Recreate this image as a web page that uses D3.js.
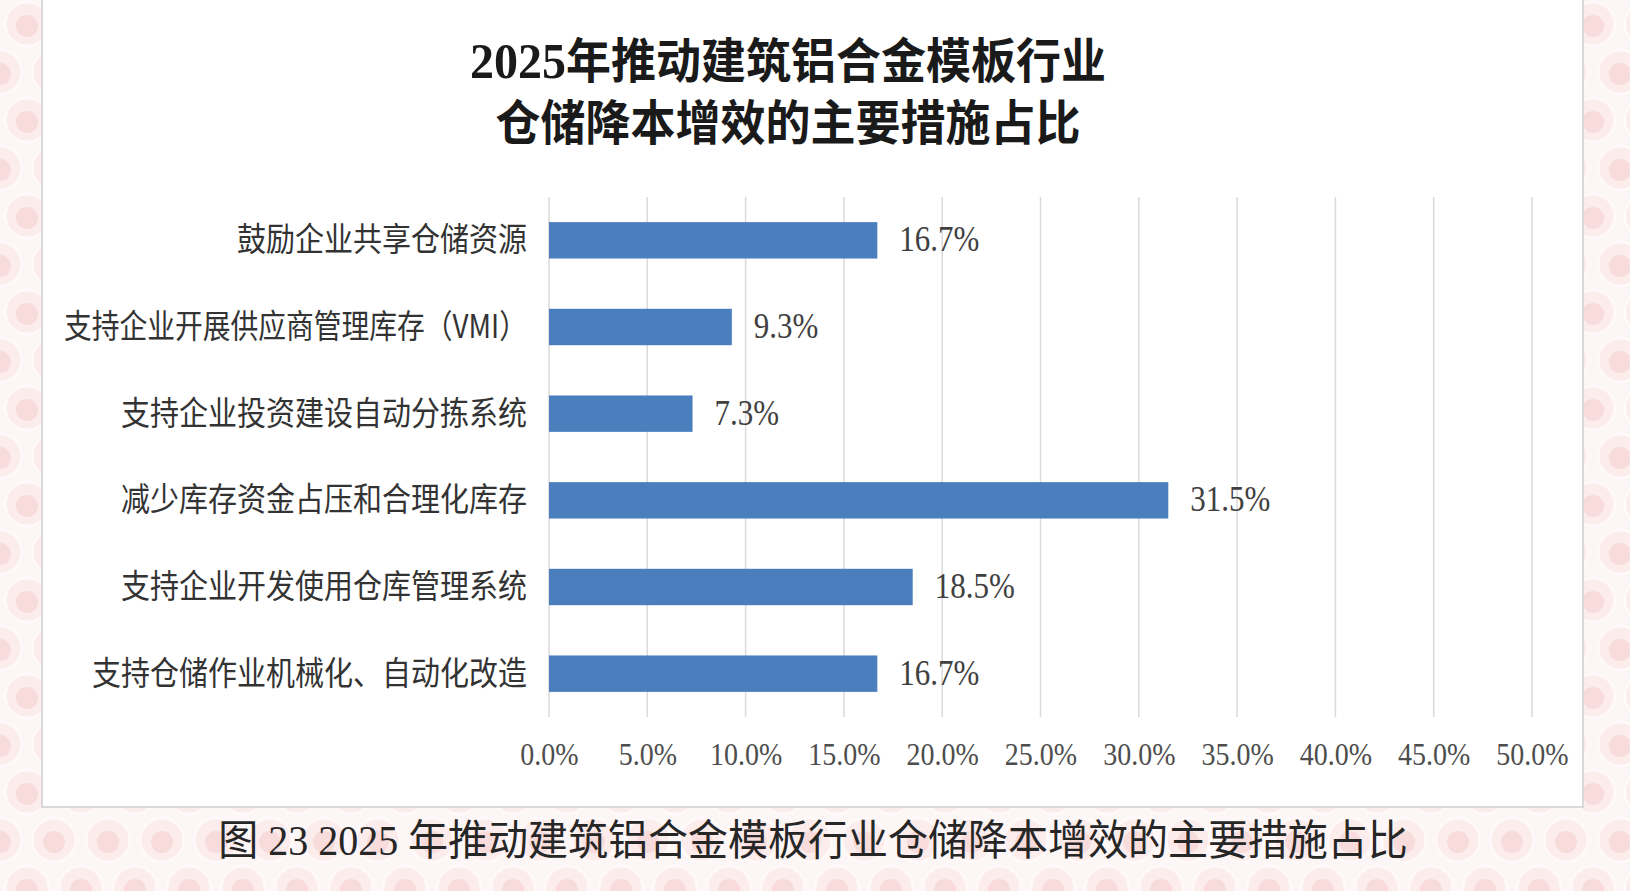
<!DOCTYPE html>
<html>
<head>
<meta charset="utf-8">
<script src="https://cdn.jsdelivr.net/npm/d3@7"></script>
<style>
  html, body { margin: 0; padding: 0; background: #fdf6f6; }
  svg { display: block; }
</style>
</head>
<body>
<div id="chart"></div>
<script>
// chart data
const categories = [
    '鼓励企业共享仓储资源',
    '支持企业开展供应商管理库存（VMI）',
    '支持企业投资建设自动分拣系统',
    '减少库存资金占压和合理化库存',
    '支持企业开发使用仓库管理系统',
    '支持仓储作业机械化、自动化改造'
];
const shares = [16.7, 9.3, 7.3, 31.5, 18.5, 16.7];
const xTicks = [0, 5, 10, 15, 20, 25, 30, 35, 40, 45, 50];
const titleLines = ['2025年推动建筑铝合金模板行业', '仓储降本增效的主要措施占比'];
const caption = '图 23 2025 年推动建筑铝合金模板行业仓储降本增效的主要措施占比';

const width = 1630;
const height = 891;
const cjk = '"Noto Sans CJK SC", "Noto Sans", sans-serif';
const serif = '"Liberation Serif", "DejaVu Serif", serif';
const stretch = 1.13; // source image is a bit taller than wide

const svg = d3.select('#chart').append('svg')
    .attr('width', width)
    .attr('height', height);

// pink circle wallpaper behind the card
const defs = svg.append('defs');
const pat = defs.append('pattern')
    .attr('id', 'bg')
    .attr('patternUnits', 'userSpaceOnUse')
    .attr('width', 54)
    .attr('height', 96);
pat.append('rect').attr('width', 54).attr('height', 96).attr('fill', '#fdf6f6');
[[27, 24], [0, 72], [54, 72]].forEach(([cx, cy]) => {
    pat.append('circle').attr('cx', cx).attr('cy', cy).attr('r', 22)
        .attr('fill', '#fcecec').attr('stroke', '#fff9f9').attr('stroke-width', 3);
    pat.append('circle').attr('cx', cx).attr('cy', cy + 2).attr('r', 11)
        .attr('fill', '#f8dcdc');
});
svg.append('rect').attr('width', width).attr('height', height).attr('fill', 'url(#bg)');

// white card
svg.append('rect')
    .attr('x', 42).attr('y', -2)
    .attr('width', 1541).attr('height', 809)
    .attr('fill', '#ffffff')
    .attr('stroke', '#d9d9d9')
    .attr('stroke-width', 2);

// title
const titleG = svg.append('g');
const titleBase = [78, 140];
titleLines.forEach((line, i) => {
    const t = titleG.append('text')
        .attr('transform', `translate(788,${titleBase[i]}) scale(1,1.05)`)
        .attr('text-anchor', 'middle')
        .attr('fill', '#1a1a1a')
        .attr('font-weight', 'bold')
        .style('font-size', '45px');
    const m = line.match(/^(\d+)(.*)$/);
    if (m) {
        t.append('tspan').attr('font-family', serif).style('font-size', '48px').text(m[1]);
        t.append('tspan').attr('font-family', cjk).text(m[2]);
    } else {
        t.append('tspan').attr('font-family', cjk).text(line);
    }
});

// scales
const x = d3.scaleLinear()
    .domain([0, 50])
    .range([549, 1532]);

const y = d3.scaleBand()
    .domain(categories)
    .range([197, 717])
    .paddingInner(0.58)
    .paddingOuter(0.29);

// gridlines
svg.append('g')
    .selectAll('line')
    .data(xTicks)
    .enter()
    .append('line')
    .attr('x1', d => x(d))
    .attr('x2', d => x(d))
    .attr('y1', 197)
    .attr('y2', 717)
    .attr('stroke', '#dadada')
    .attr('stroke-width', 1.5);

// x axis labels
const xAxis = svg.append('g')
    .attr('transform', 'translate(0,717)')
    .call(d3.axisBottom(x).tickValues(xTicks).tickSize(0).tickFormat(d => d3.format('.1f')(d) + '%'));
xAxis.select('.domain').remove();
xAxis.selectAll('text')
    .attr('y', 0)
    .attr('dy', 0)
    .attr('transform', `translate(0,48) scale(1,${stretch})`)
    .attr('font-family', serif)
    .style('font-size', '28px')
    .attr('fill', '#4d4d4d');

// y axis labels
const yAxis = svg.append('g')
    .attr('transform', 'translate(549,0)')
    .call(d3.axisLeft(y).tickSize(0).tickPadding(22));
yAxis.select('.domain').remove();
yAxis.selectAll('text')
    .attr('x', 0)
    .attr('dy', 0)
    .attr('transform', `translate(-22,11) scale(1,${stretch})`)
    .attr('font-family', cjk)
    .style('font-size', '29px')
    .attr('fill', '#333333')
    .each(function () {
        // the long VMI label is set tighter in the source
        const maxLen = 463;
        if (this.getComputedTextLength() > maxLen) {
            d3.select(this).attr('textLength', maxLen).attr('lengthAdjust', 'spacingAndGlyphs');
        }
    });

// bars
svg.append('g')
    .selectAll('rect')
    .data(shares)
    .enter()
    .append('rect')
    .attr('x', x(0))
    .attr('y', (d, i) => y(categories[i]))
    .attr('width', d => x(d) - x(0))
    .attr('height', y.bandwidth())
    .attr('fill', '#4a7ebd');

// value labels
svg.append('g')
    .selectAll('text')
    .data(shares)
    .enter()
    .append('text')
    .attr('transform', (d, i) => `translate(${x(d) + 22},${y(categories[i]) + y.bandwidth() / 2 + 11}) scale(1,${stretch})`)
    .attr('font-family', serif)
    .style('font-size', '31px')
    .attr('fill', '#404040')
    .text(d => d3.format('.1f')(d) + '%');

// caption under the card
const cap = svg.append('text')
    .attr('transform', `translate(813,855) scale(1,1.05)`)
    .attr('text-anchor', 'middle')
    .attr('fill', '#262626')
    .style('font-size', '40px');
caption.split(/(\s*[\d ]+\s*)/).filter(s => s.length).forEach(part => {
    cap.append('tspan')
        .attr('font-family', /\d/.test(part) ? serif : cjk)
        .style('white-space', 'pre')
        .text(part);
});
</script>
</body>
</html>
